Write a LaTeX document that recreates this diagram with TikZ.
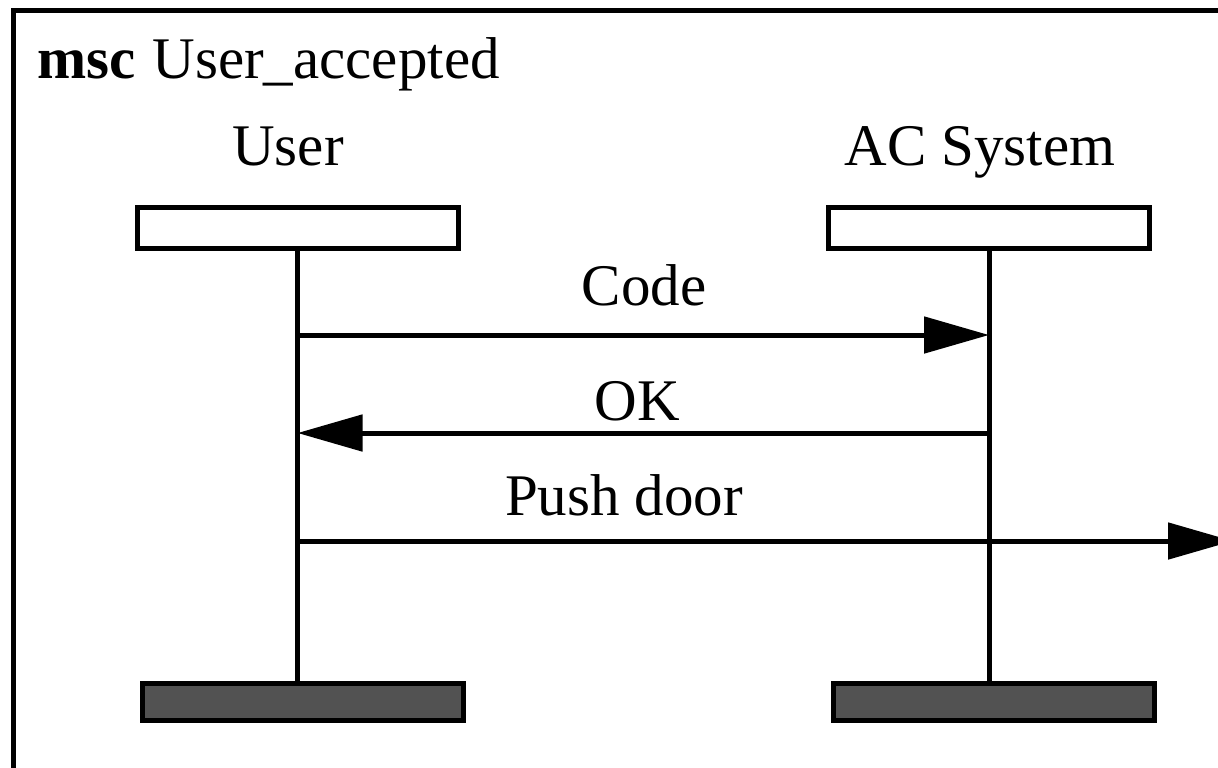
\documentclass[tikz,border=0pt]{standalone}
\usepackage{fontspec}
\setmainfont{Liberation Serif}
\usetikzlibrary{arrows.meta}
\begin{document}
\begin{tikzpicture}[x=0.5pt,y=-0.5pt,
  line width=2.5pt,
  lbl/.style={font=\fontsize{29.5pt}{34pt}\selectfont, anchor=base, inner sep=0pt},
  headbox/.style={draw, fill=white, inner sep=0pt, minimum width=160.5pt, minimum height=20.5pt},
  footbox/.style={draw, fill=black!68, inner sep=0pt, minimum width=160.5pt, minimum height=18.5pt},
  msg/.style={-{Triangle[length=32.5pt 0,width=18pt 0]}}]
\useasboundingbox (0,0) rectangle (1218,767);
% diagram frame (its right and lower sides lie outside the page)
\draw[line join=miter] (1230,10.5) -- (13.5,10.5) -- (13.5,780);
% title
\node[lbl, anchor=base west, font=\fontsize{29.5pt}{34pt}\selectfont\bfseries] (kw) at (35,78) {msc};
\node[lbl, anchor=base west] (title) at (150,78) {User\_accepted};
% instance names
\node[lbl] (uname) at (288,165) {User};
\node[lbl] (aname) at (980,165) {AC System};
% instance heads and ends
\node[headbox] (uh) at (297.5,228) {};
\node[headbox] (ah) at (989,228) {};
\node[footbox] (uf) at (303,702) {};
\node[footbox] (af) at (994,702) {};
% lifelines
\draw (uh.south) -- (uh.south |- uf.north);
\draw (ah.south) -- (ah.south |- af.north);
% message levels
\coordinate (m1) at (0,335);
\coordinate (m2) at (0,433);
\coordinate (m3) at (0,541);
\coordinate (env) at (1233,541);
% messages
\draw[msg] (uh.south |- m1) -- (ah.south |- m1);
\draw[msg] (ah.south |- m2) -- (uh.south |- m2);
\draw[msg] (uh.south |- m3) -- (env);
% message names
\node[lbl] (lcode) at (644,305) {Code};
\node[lbl] (lok) at (637,420) {OK};
\node[lbl] (lpush) at (624,515) {Push door};
\end{tikzpicture}
\end{document}
